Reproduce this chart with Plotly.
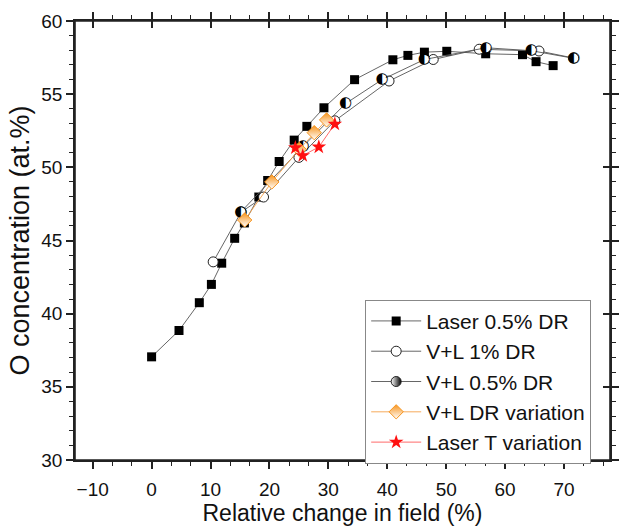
import plotly.graph_objects as go

laser_x = [0, 4.65, 8.1, 10.15, 11.9, 14.1, 15.75, 18.2, 19.7, 21.65, 24.2, 26.35, 29.25,
           34.45, 40.95, 43.5, 46.3, 50.1, 56.7, 62.95, 65.25, 68.15]
laser_y = [37.05, 38.85, 40.75, 42.0, 43.45, 45.15, 46.2, 47.97, 49.1, 50.4, 51.86, 52.8, 54.07,
           55.99, 57.35, 57.65, 57.87, 57.93, 57.76, 57.7, 57.22, 56.95]

vl1_x = [10.45, 15.2, 19.0, 25.0, 31.1, 40.3, 47.8, 55.6, 65.75, 71.6]
vl1_y = [43.54, 46.95, 47.97, 50.68, 53.18, 55.9, 57.37, 58.07, 57.95, 57.47]

vl05_x = [15.15, 25.7, 32.9, 39.1, 46.3, 56.75, 64.45, 71.65]
vl05_y = [46.95, 51.43, 54.35, 55.99, 57.37, 58.17, 57.97, 57.45]

vldr_x = [15.8, 20.4, 25.06, 27.6, 29.7]
vldr_y = [46.4, 49.0, 51.23, 52.37, 53.24]

lt_x = [24.4, 25.65, 28.38, 31.1]
lt_y = [51.34, 50.8, 51.39, 52.96]

X_RANGE = [-13.0, 77.8]
Y_RANGE = [30, 60]

FONT = "Arial, Liberation Sans, sans-serif"
LINE_GRAY = "#555555"
AX = "#222222"

fig = go.Figure()
fig.add_trace(go.Scatter(
    x=laser_x, y=laser_y, mode="lines+markers", name="Laser 0.5% DR",
    line=dict(color=LINE_GRAY, width=0.9),
    marker=dict(symbol="square", size=9, color="black", line=dict(width=0))))
fig.add_trace(go.Scatter(
    x=vl1_x, y=vl1_y, mode="lines+markers", name="V+L 1% DR",
    line=dict(color=LINE_GRAY, width=0.9),
    marker=dict(symbol="circle", size=10, color="white", line=dict(color=AX, width=1))))
n05 = len(vl05_x)
fig.add_trace(go.Scatter(
    x=vl05_x, y=vl05_y, mode="lines+markers", showlegend=False, hoverinfo="skip",
    line=dict(color=LINE_GRAY, width=0.9),
    marker=dict(symbol="circle", size=9, color="white", line=dict(width=0))))
fig.add_trace(go.Scatter(
    x=vl05_x, y=vl05_y, mode="text", showlegend=False, name="V+L 0.5% DR",
    text=["\u25D0"] * n05, textposition="middle center",
    textfont=dict(family="DejaVu Sans", size=15, color="black")))
fig.add_trace(go.Scatter(
    x=[X_RANGE[0] - 50], y=[Y_RANGE[0] - 50], mode="lines+markers", name="V+L 0.5% DR",
    hoverinfo="skip",
    line=dict(color=LINE_GRAY, width=0.9),
    marker=dict(symbol="circle", size=10, color="white",
                gradient=dict(type="horizontal", color="black"),
                line=dict(color=AX, width=1))))
fig.add_trace(go.Scatter(
    x=vldr_x, y=vldr_y, mode="lines+markers", name="V+L DR variation",
    line=dict(color="#f5a24a", width=0.9),
    marker=dict(symbol="diamond", size=11, color="#f7941d",
                gradient=dict(type="vertical", color="white"),
                line=dict(color="#f7941d", width=1))))
fig.add_trace(go.Scatter(
    x=lt_x, y=lt_y, mode="lines+markers", name="Laser T variation",
    line=dict(color="#ff5a5a", width=0.9),
    marker=dict(symbol="star", size=11, color="#ff1010", line=dict(width=0))))
fig.add_trace(go.Scatter(x=[X_RANGE[0] - 50], y=[Y_RANGE[0] - 50], xaxis="x2", yaxis="y2",
                         showlegend=False, hoverinfo="skip", mode="markers",
                         marker=dict(opacity=0)))

axis_common = dict(
    showline=True, linecolor=AX, linewidth=1.6, mirror="ticks",
    showgrid=False, zeroline=False, ticks="outside", ticklen=7, tickwidth=1.5,
    tickcolor=AX,
    tickfont=dict(family=FONT, size=19, color="#111111"),
)

fig.update_layout(
    width=619, height=526,
    margin=dict(l=75, r=0, t=21, b=66),
    paper_bgcolor="white", plot_bgcolor="white",
    font=dict(family=FONT, color="#111111"),
    xaxis=dict(range=X_RANGE, dtick=10, tick0=0, ticklabelstandoff=4,
               minor=dict(dtick=10/3, tick0=0, ticks="outside", ticklen=4, tickwidth=1.2, tickcolor=AX),
               title=dict(text="Relative change in field (%)", font=dict(family=FONT, size=23), standoff=8),
               **axis_common),
    yaxis=dict(range=Y_RANGE, dtick=5, tick0=30,
               minor=dict(dtick=1, tick0=30, ticks="outside", ticklen=4, tickwidth=1.2, tickcolor=AX),
               title=dict(text="O concentration (at.%)", font=dict(family=FONT, size=27), standoff=4),
               **axis_common),
    xaxis2=dict(overlaying="x", side="top", range=X_RANGE, dtick=10, tick0=0,
                showline=True, linecolor=AX, linewidth=1.6, showgrid=False, zeroline=False,
                ticks="inside", ticklen=7, tickwidth=1.5, tickcolor=AX, showticklabels=False),
    yaxis2=dict(overlaying="y", side="right", range=Y_RANGE, dtick=5, tick0=30,
                showline=True, linecolor=AX, linewidth=1.6, showgrid=False, zeroline=False,
                ticks="inside", ticklen=7, tickwidth=1.5, tickcolor=AX, showticklabels=False),
    shapes=[dict(type="rect", xref="paper", yref="paper", x0=0, x1=1, y0=0, y1=1,
                 line=dict(color=AX, width=1.6), fillcolor="rgba(0,0,0,0)", layer="above")],
    legend=dict(x=0.5424, xanchor="left", y=0.365, yanchor="top",
                bgcolor="white", bordercolor="#888888", borderwidth=1,
                font=dict(family=FONT, size=21, color="#111111"),
                tracegroupgap=0, itemwidth=50),
    showlegend=True,
)

fig.write_html("out.html")
